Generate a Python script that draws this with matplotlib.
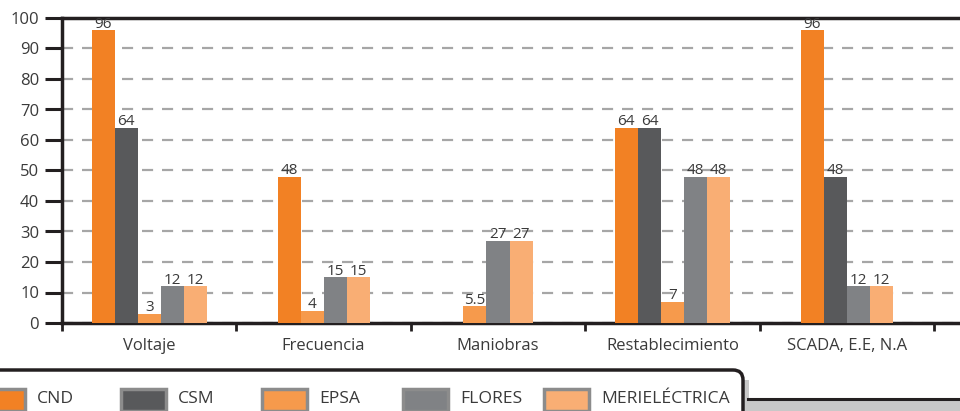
import matplotlib
matplotlib.use("Agg")
import matplotlib.pyplot as plt
from matplotlib.patches import Rectangle, PathPatch
from matplotlib.path import Path

plt.rcParams["font.family"] = ["Open Sans", "DejaVu Sans"]

categories = ["Voltaje", "Frecuencia", "Maniobras", "Restablecimiento", "SCADA, E.E, N.A"]
series = ["CND", "CSM", "EPSA", "FLORES", "MERIELÉCTRICA"]
values = {
    "CND": [96, 48, 0, 64, 96],
    "CSM": [64, 0, 0, 64, 48],
    "EPSA": [3, 4, 5.5, 7, 0],
    "FLORES": [12, 15, 27, 48, 12],
    "MERIELÉCTRICA": [12, 15, 27, 48, 12],
}
colors = {
    "CND": "#f28124",
    "CSM": "#58595b",
    "EPSA": "#f69a4c",
    "FLORES": "#808285",
    "MERIELÉCTRICA": "#f9ae74",
}

W, H = 960, 411
dark = "#231f20"
txt = "#3a3a3a"

fig = plt.figure(figsize=(W / 100, H / 100), dpi=100)
ax = fig.add_axes([62 / W, 88 / H, 898 / W, 305 / H])

# bars: zero values are left out and the rest are centred in the group
bw = 0.132
for i, cat in enumerate(categories):
    present = [s for s in series if values[s][i] > 0]
    n = len(present)
    for k, s in enumerate(present):
        x = i + (k - (n - 1) / 2) * bw
        b = ax.bar(x, values[s][i], width=bw, color=colors[s], zorder=3)
        ax.bar_label(b, labels=[f"{values[s][i]:g}"], padding=-1,
                     fontsize=11, color=txt, zorder=4)

ax.set_xlim(-0.5, -0.5 + 898 / 174.4)
ax.set_ylim(0, 100)
ax.set_yticks(range(0, 101, 10))
ax.yaxis.grid(True, color="#a6a6a6", linestyle=(0, (5, 4)), linewidth=1.6)
ax.set_axisbelow(True)

ax.set_xticks([i - 0.5 for i in range(len(categories) + 1)])
ax.set_xticklabels([])
ax.set_xticks(range(len(categories)), minor=True)
ax.set_xticklabels(categories, minor=True)
ax.tick_params(axis="x", which="major", direction="out", length=6, width=2, color=dark)
ax.tick_params(axis="x", which="minor", length=0, pad=11, labelsize=12, labelcolor=txt)
ax.tick_params(axis="y", direction="out", length=12.5, width=2.2, color=dark,
               labelsize=12, labelcolor=txt, pad=4)

for side in ["left", "top", "bottom"]:
    ax.spines[side].set_linewidth(2.5)
    ax.spines[side].set_color(dark)
ax.spines["right"].set_visible(False)


def fx(px):
    return px / W


def fy(py):
    return (H - py) / H


# legend tab frame
verts = [(fx(-5), fy(370)), (fx(733), fy(370)), (fx(743), fy(370)),
         (fx(743), fy(380)), (fx(743), fy(420))]
codes = [Path.MOVETO, Path.LINETO, Path.CURVE3, Path.CURVE3, Path.LINETO]
fig.add_artist(Rectangle((fx(744), fy(420)), fx(5) - fx(0), fy(380) - fy(420),
                         transform=fig.transFigure, color="#c8c8c8", lw=0))
fig.add_artist(Rectangle((fx(745), fy(420)), fx(220), fy(400) - fy(420),
                         transform=fig.transFigure, color="#c8c8c8", lw=0))
fig.add_artist(PathPatch(Path(verts, codes), transform=fig.transFigure,
                         fill=False, lw=2.5, edgecolor=dark))
fig.add_artist(plt.Line2D([fx(748), fx(965)], [fy(399), fy(399)],
                          transform=fig.transFigure, lw=2.2, color=dark))

# legend entries
for i, s in enumerate(series):
    x0 = -20 + 141 * i
    fig.add_artist(Rectangle((fx(x0), fy(411)), fx(45), fy(389) - fy(411),
                             transform=fig.transFigure, facecolor=colors[s],
                             edgecolor="#8c8c8c", lw=2.5))
    fig.text(fx(x0 + 57), fy(399), s, fontsize=12.6, color=txt, va="center", ha="left")

fig.savefig("out.png", dpi=100)
